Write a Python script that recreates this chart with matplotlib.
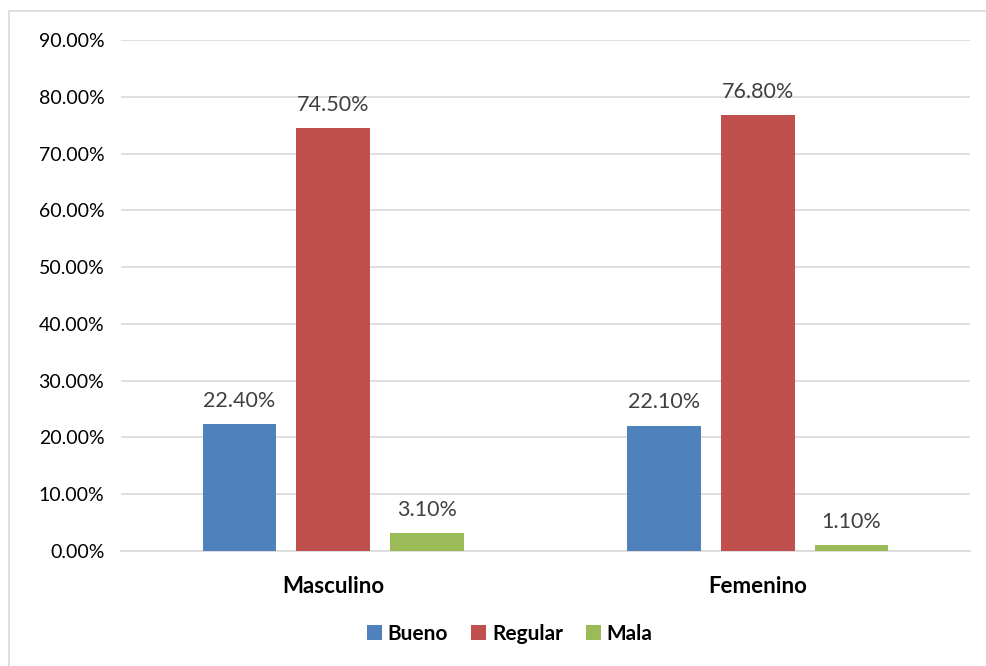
import numpy as np
import matplotlib.pyplot as plt
from matplotlib.patches import Rectangle
from matplotlib.ticker import FuncFormatter

categories = ["Masculino", "Femenino"]
series_names = ["Bueno", "Regular", "Mala"]
bueno = [22.4, 22.1]
regular = [74.5, 76.8]
mala = [3.1, 1.1]
colors = ["#4F81BD", "#C0504D", "#9BBB59"]

plt.rcParams['font.family'] = ['Lato', 'DejaVu Sans']

fig = plt.figure(figsize=(9.87, 6.66), dpi=100)
# chart frame (light gray border, cut off on right/bottom)
fig.patches.append(Rectangle((9 / 987, -0.05), 1.2, 1 - 11 / 666 + 0.05,
                             transform=fig.transFigure, fill=False,
                             edgecolor="#D9D9D9", linewidth=1.2))

ax = fig.add_axes([121 / 987, 1 - 551 / 666, (970 - 121) / 987, (551 - 40) / 666])

x = np.arange(len(categories))
w = 0.174
offsets = [-0.221, 0, 0.221]
for vals, name, off, c in zip([bueno, regular, mala], series_names, offsets, colors):
    bars = ax.bar(x + off, vals, w, color=c, label=name, zorder=3)
    for b, v in zip(bars, vals):
        ax.text(b.get_x() + b.get_width() / 2, v + 2.3, f"{v:.2f}%",
                ha="center", va="bottom", fontsize=15.5, color="#404040")

ax.set_xlim(-0.5, 1.5)
ax.set_ylim(0, 90)
ax.set_yticks(np.arange(0, 91, 10))
ax.yaxis.set_major_formatter(FuncFormatter(lambda v, p: f"{v:.2f}%"))
ax.set_xticks(x)
ax.set_xticklabels(categories, fontsize=16, fontweight="bold")
ax.tick_params(axis="y", labelsize=14, length=0, pad=12)
ax.tick_params(axis="x", length=0, pad=18)
ax.grid(axis="y", color="#D9D9D9", linewidth=1.2, zorder=0)
for s in ["top", "right", "left"]:
    ax.spines[s].set_visible(False)
ax.spines["bottom"].set_color("#D9D9D9")
ax.spines["bottom"].set_linewidth(1.2)

ax.legend(loc="center", bbox_to_anchor=(0.458, -0.162), ncol=3, frameon=False,
          prop={"size": 15, "weight": "bold"}, handlelength=0.7, handleheight=0.7,
          handletextpad=0.3, columnspacing=1.1)

fig.savefig("out.png", dpi=100)
